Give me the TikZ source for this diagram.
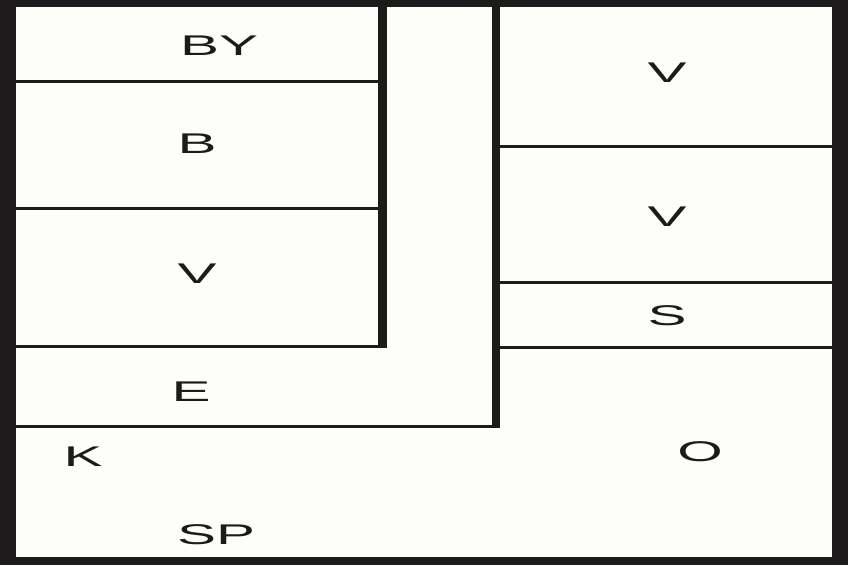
\documentclass[tikz,border=0pt]{standalone}
\usepackage{fontspec}
\setmainfont{Liberation Sans}
\usepackage{xcolor}
\definecolor{wallc}{HTML}{1C1A1A}
\definecolor{floorc}{HTML}{FDFDF9}
\newcommand{\roomname}[1]{\scalebox{2.05}[1]{#1}}
\tikzset{
  wall/.style={wallc, line width=8.5pt},
  part/.style={wallc, line width=3pt},
  room/.style={anchor=base, inner sep=0pt, text=wallc, font=\fontsize{28.5}{30}\selectfont}
}

\begin{document}
\begin{tikzpicture}[x=1pt, y=-1pt]
\useasboundingbox (0,0) rectangle (848,565);
\fill[wallc] (0,0) rectangle (848,565);
\fill[floorc] (16,7) rectangle (832,557);
% thick walls
\draw[wall] (382.5,7) -- (382.5,348);
\draw[wall] (496,7) -- (496,428);
% partitions left
\foreach \y in {81,208}
    \draw[part] (16,\y) -- (382.5,\y);
\draw[part] (16,346.5) -- (386.75,346.5);
\draw[part] (16,426.5) -- (500.25,426.5);
% partitions right
\foreach \y in {146,282,347}
    \draw[part] (496,\y) -- (832,\y);
% labels
\node[room] (by) at (219,55) {\roomname{BY}};
\node[room] (b) at (197,153) {\roomname{B}};
\node[room] (vl) at (197,283) {\roomname{V}};
\node[room] (e) at (191,401) {\roomname{E}};
\node[room] (k) at (83,466) {\roomname{K}};
\node[room] (sp) at (216,544) {\roomname{SP}};
\node[room] (va) at (667,82) {\roomname{V}};
\node[room] (vb) at (667,226) {\roomname{V}};
\node[room] (s) at (667,325) {\roomname{S}};
\node[room] (o) at (700,461) {\roomname{O}};
\end{tikzpicture}
\end{document}
